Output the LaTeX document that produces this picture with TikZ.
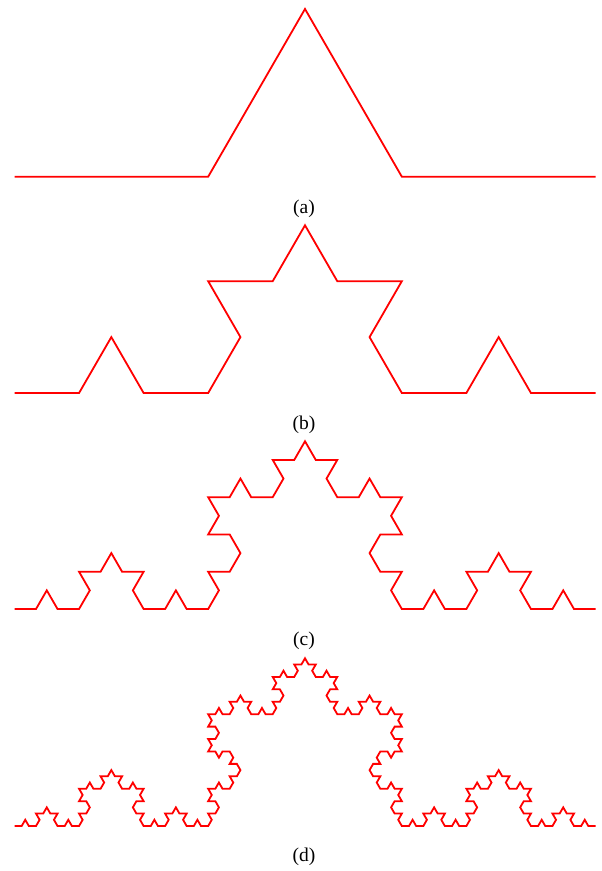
\documentclass[tikz,border=0pt]{standalone}
\usepackage{fontspec}
\setmainfont{Liberation Serif}
\tikzset{
  kochline/.style={draw=red, line width=1.8pt, line join=miter, line cap=butt},
  caption/.style={font=\fontsize{19.5}{22}\selectfont, inner sep=0pt}
}
\newcount\kdir
\def\kpath{}
\def\kappend{\xdef\kpath{\kpath -- ++(\the\numexpr\kdir*60\relax:\kstep)}}
\def\kochlev#1{\ifnum#1=0 \kappend\else\expandafter\kochrec\expandafter{\the\numexpr#1-1\relax}\fi}
\def\kochrec#1{\kochlev{#1}\global\advance\kdir by 1 \kochlev{#1}\global\advance\kdir by -2 \kochlev{#1}\global\advance\kdir by 1 \kochlev{#1}}
\newcommand{\kochcurve}[4]{% #1 x, #2 y, #3 order, #4 step
  \gdef\kpath{}\global\kdir=0 \def\kstep{#4}\kochlev{#3}%
  \edef\kdo{\noexpand\draw[kochline] (#1pt,-#2pt) coordinate (s#3) \kpath;}\kdo}
\begin{document}
\begin{tikzpicture}
\useasboundingbox (0pt,0pt) rectangle (602pt,-871pt);
\kochcurve{14.5}{176.7}{1}{193.667pt}
\kochcurve{14.5}{393}{2}{64.556pt}
\kochcurve{14.5}{609}{3}{21.519pt}
\kochcurve{14.5}{826}{4}{7.1728pt}
\node[caption] (la) at (304pt,-209pt) {(a)};
\node[caption] (lb) at (304pt,-425pt) {(b)};
\node[caption] (lc) at (304pt,-641pt) {(c)};
\node[caption] (ld) at (304pt,-857pt) {(d)};
\end{tikzpicture}
\end{document}
